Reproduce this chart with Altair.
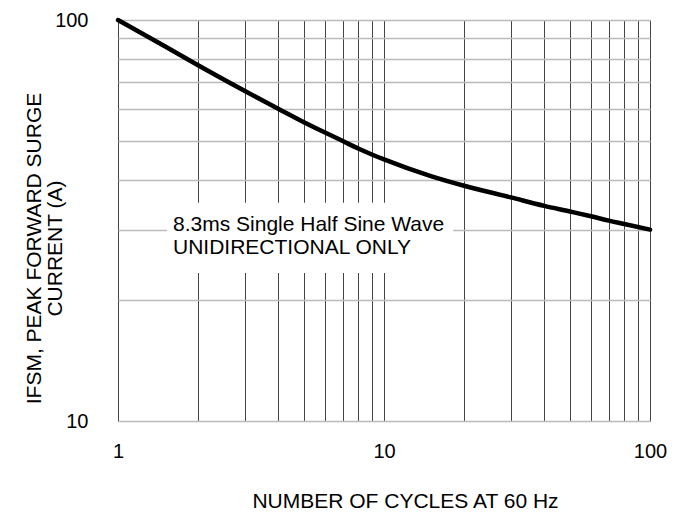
import altair as alt
import pandas as pd

# curve data
cycles = [1, 1.5, 2, 3, 4, 5, 6, 7, 8, 9, 10, 15, 20, 30, 40, 50, 60, 70, 80, 100]
current = [100, 86.0, 77.1, 66.5, 60.1, 55.6, 52.4, 49.9, 47.8, 46.2, 44.9, 40.8, 38.6, 36.1, 34.4, 33.3, 32.4, 31.6, 31.0, 30.0]

# grid / tick values
x_grid = [1, 2, 3, 4, 5, 6, 7, 8, 9, 10, 20, 30, 40, 50, 60, 70, 80, 90, 100]
y_grid = [10, 20, 30, 40, 50, 60, 70, 80, 90, 100]

# annotation
note_lines = ["8.3ms Single Half Sine Wave", "UNIDIRECTIONAL ONLY"]
note_x = [1.61, 1.61]
note_y = [29.8, 26.1]
box_x = [1.53]
box_x2 = [18.2]
box_y = [23.4]
box_y2 = [35.0]

x_title = "NUMBER OF CYCLES AT 60 Hz"
y_title = ["IFSM, PEAK FORWARD SURGE", "CURRENT (A)"]

FONT = "Liberation Sans"

df = pd.DataFrame({"cycles": cycles, "current": current})
xs = alt.Scale(type="log", domain=[1, 100], nice=False)
ys = alt.Scale(type="log", domain=[10, 100], nice=False)

line = alt.Chart(df).mark_line(color="black", strokeWidth=4.5, interpolate="monotone", strokeCap="round").encode(
    x=alt.X("cycles:Q", scale=xs, axis=alt.Axis(
        values=x_grid, title=x_title,
        labelExpr="(datum.value == 1 || datum.value == 10 || datum.value == 100) ? datum.value : ''",
        grid=True, gridColor="#444444", gridWidth=1, domain=False, ticks=False,
        labelFontSize=20, labelFont=FONT, labelColor="black", labelPadding=20,
        titleFontSize=21, titleFont=FONT, titleFontWeight="normal", titleColor="black",
        titleX=287, titleY=80, titleBaseline="middle", titleAlign="center",
        labelFlush=False, labelOverlap=False)),
    y=alt.Y("current:Q", scale=ys, axis=alt.Axis(
        values=y_grid, title=y_title,
        labelExpr="(datum.value == 10 || datum.value == 100) ? datum.value : ''",
        grid=True, gridColor="#bbbbbb", gridWidth=1.5, domain=False, ticks=False,
        labelFontSize=20, labelFont=FONT, labelColor="black", labelPadding=30,
        titleFontSize=21, titleFont=FONT, titleFontWeight="normal", titleColor="black",
        titleAngle=270, titleX=-84, titleY=228, titleBaseline="middle", titleAlign="center",
        titleLineHeight=21, labelFlush=False, labelOverlap=False)),
)

box_df = pd.DataFrame({"x": box_x, "x2": box_x2, "y": box_y, "y2": box_y2})
box = alt.Chart(box_df).mark_rect(color="white").encode(
    x=alt.X("x:Q", scale=xs), x2="x2:Q",
    y=alt.Y("y:Q", scale=ys), y2="y2:Q",
)

note_df = pd.DataFrame({"x": note_x, "y": note_y, "t": note_lines})
note = alt.Chart(note_df).mark_text(
    align="left", baseline="alphabetic", fontSize=21, font=FONT, color="black"
).encode(
    x=alt.X("x:Q", scale=xs), y=alt.Y("y:Q", scale=ys), text="t:N"
)

chart = alt.layer(line, box, note).properties(
    width=532, height=401,
    autosize=alt.AutoSizeParams(type="none"),
    padding={"left": 110, "top": 12, "right": 20, "bottom": 90},
).configure_view(stroke="black", strokeWidth=1.5).configure(background="white")

chart.save("out.html", embed_options={"renderer": "svg", "actions": False})
